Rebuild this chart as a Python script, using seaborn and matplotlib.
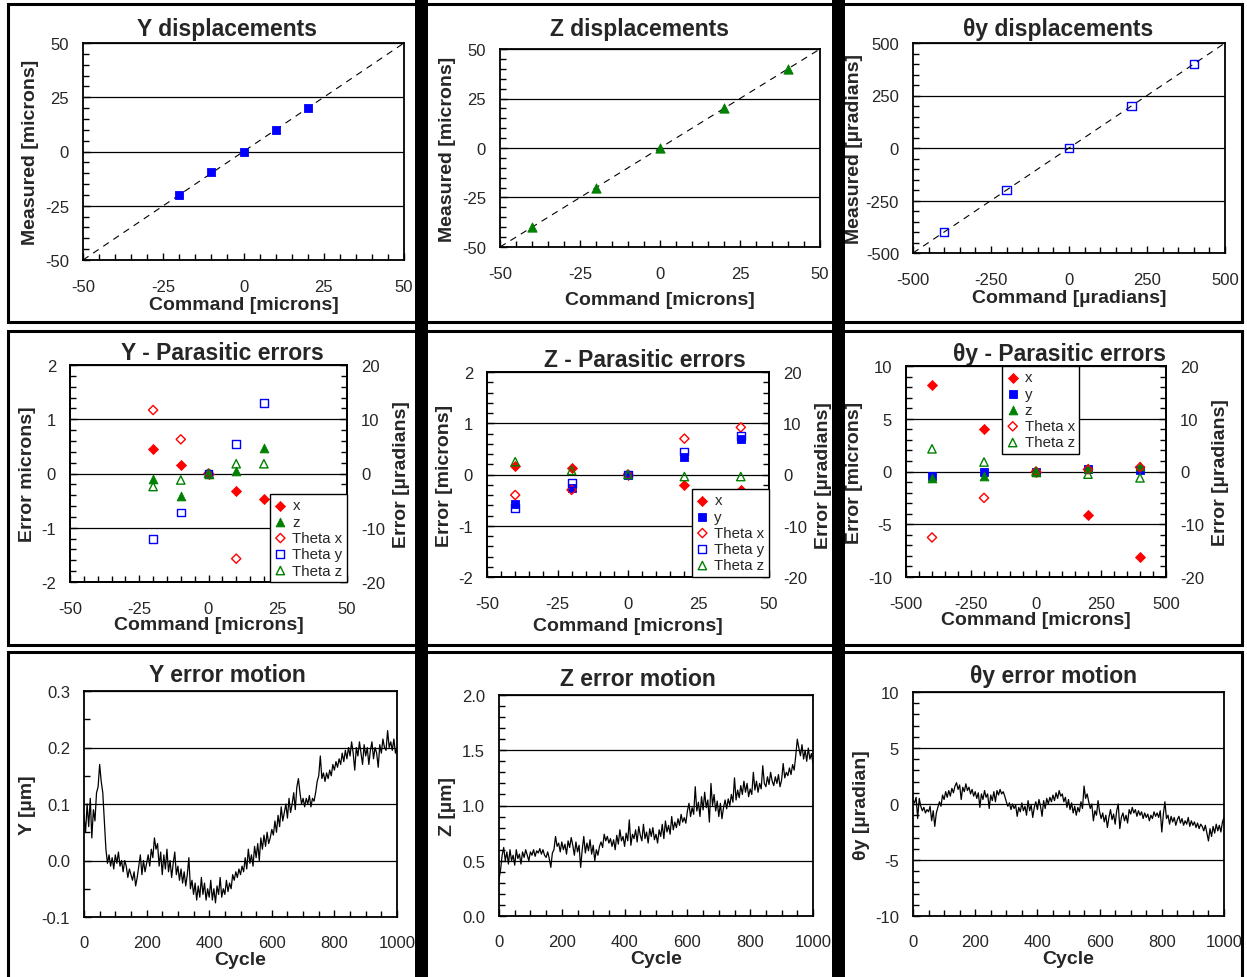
import numpy as np
import matplotlib
matplotlib.use('Agg')
import matplotlib.pyplot as plt
from matplotlib.patches import Rectangle
from matplotlib.ticker import MultipleLocator, FormatStrFormatter
import seaborn as sns

# ---------------- data ----------------
# displacement tests (command vs measured)
y_cmd = [-20, -10, 0, 10, 20]
y_meas = [-20, -9.5, 0, 10, 20]
z_cmd = [-40, -20, 0, 20, 40]
z_meas = [-40, -20, 0, 20, 40]
ty_cmd = [-400, -200, 0, 200, 400]
ty_meas = [-400, -200, 0, 200, 400]

# parasitic errors during Y motion (x, z in microns; thetas in urad)
ypar_cmd = [-20, -10, 0, 10, 20]
ypar_x = [0.45, 0.15, 0.0, -0.33, -0.47]
ypar_z = [-0.1, -0.42, 0.0, 0.05, 0.47]
ypar_thx = [11.7, 6.3, 0.0, -15.7, np.nan]
ypar_thy = [-12.0, -7.2, 0.0, 5.4, 13.0]
ypar_thz = [-2.4, -1.2, 0.0, 1.8, 1.8]

# parasitic errors during Z motion
zpar_cmd = [-40, -20, 0, 20, 40]
zpar_x = [0.17, 0.13, 0.0, -0.2, -0.3]
zpar_y = [-0.57, -0.27, 0.0, 0.35, 0.7]
zpar_thx = [-4.0, -3.0, 0.0, 7.0, 9.2]
zpar_thy = [-6.5, -1.6, 0.0, 4.5, 7.5]
zpar_thz = [2.5, 0.8, 0.0, -0.4, -0.4]

# parasitic errors during theta-y motion
tpar_cmd = [-400, -200, 0, 200, 400]
tpar_x = [8.2, 4.0, 0.0, -4.1, -8.1]
tpar_y = [-0.4, 0.0, 0.0, 0.2, 0.1]
tpar_z = [-0.6, -0.4, 0.0, 0.3, 0.5]
tpar_thx = [-12.5, -5.0, 0.0, 0.4, 0.8]
tpar_thz = [4.3, 1.8, 0.0, -0.5, -1.2]

# error motion over 1000 cycles (sampled every 5 cycles)
y_motion = [
    0.08, 0.05, 0.10, 0.06, 0.11, 0.04, 0.09, 0.07, 0.12, 0.13,
    0.17, 0.14, 0.12, 0.07, 0.02, -0.005, 0.01, -0.01, 0.005, -0.015,
    0.01, -0.005, 0.015, -0.01, 0.0, -0.02, 0.0, -0.01, -0.03, -0.015,
    -0.025, -0.035, -0.02, -0.045, -0.03, -0.01, 0.01, -0.025, 0.0, -0.02,
    -0.005, 0.01, -0.01, 0.02, 0.005, 0.04, 0.02, 0.03, -0.01, 0.015,
    -0.025, 0.01, -0.015, 0.02, -0.02, 0.0, -0.03, -0.005, 0.015, -0.025,
    -0.01, -0.035, -0.015, -0.04, -0.02, -0.045, -0.025, 0.005, -0.05, -0.035,
    -0.06, -0.04, -0.07, -0.045, -0.065, -0.03, -0.06, -0.04, -0.07, -0.05,
    -0.065, -0.035, -0.07, -0.05, -0.075, -0.045, -0.06, -0.03, -0.065, -0.05,
    -0.06, -0.035, -0.055, -0.04, -0.05, -0.025, -0.035, -0.02, -0.03, -0.015,
    -0.025, -0.01, -0.02, 0.005, -0.015, 0.02, -0.005, 0.01, -0.01, 0.025,
    0.005, 0.03, 0.0, 0.04, 0.02, 0.045, 0.025, 0.05, 0.03, 0.04,
    0.055, 0.045, 0.07, 0.05, 0.08, 0.06, 0.095, 0.07, 0.085, 0.1,
    0.075, 0.11, 0.085, 0.1, 0.12, 0.09, 0.13, 0.145, 0.12, 0.1,
    0.11, 0.095, 0.11, 0.1, 0.115, 0.095, 0.11, 0.105, 0.12, 0.14,
    0.15, 0.185, 0.145, 0.155, 0.14, 0.155, 0.145, 0.16, 0.15, 0.17,
    0.16, 0.175, 0.165, 0.18, 0.17, 0.19, 0.175, 0.195, 0.18, 0.2,
    0.185, 0.21, 0.19, 0.16, 0.2, 0.185, 0.21, 0.19, 0.17, 0.205,
    0.185, 0.2, 0.17, 0.195, 0.21, 0.18, 0.2, 0.19, 0.165, 0.205,
    0.19, 0.215, 0.2, 0.195, 0.23, 0.2, 0.21, 0.195, 0.215, 0.19,
    0.2,
]
z_motion = [
    0.33, 0.42, 0.55, 0.62, 0.5, 0.58, 0.47, 0.6, 0.5, 0.55,
    0.46, 0.6, 0.52, 0.56, 0.47, 0.58, 0.53, 0.6, 0.55, 0.5,
    0.58, 0.55, 0.6, 0.54, 0.59, 0.57, 0.61, 0.56, 0.6, 0.55,
    0.53, 0.58, 0.52, 0.44, 0.57, 0.6, 0.72, 0.63, 0.66, 0.58,
    0.67, 0.6, 0.65, 0.56, 0.68, 0.62, 0.71, 0.64, 0.55, 0.67,
    0.58, 0.64, 0.44, 0.6, 0.72, 0.57, 0.66, 0.59, 0.69, 0.56,
    0.64, 0.5, 0.6, 0.55, 0.63, 0.67, 0.62, 0.74, 0.68, 0.72,
    0.66, 0.7, 0.63, 0.69, 0.6, 0.73, 0.65, 0.78, 0.68, 0.72,
    0.63, 0.75, 0.68, 0.87, 0.64, 0.74, 0.7, 0.78, 0.67, 0.81,
    0.73, 0.68, 0.83, 0.7, 0.76, 0.66, 0.79, 0.72, 0.8, 0.69,
    0.74, 0.66, 0.78, 0.72, 0.83, 0.7, 0.86, 0.76, 0.82, 0.74,
    0.9, 0.78, 0.85, 0.8, 0.88, 0.82, 0.92, 0.85, 0.89, 0.84,
    0.95, 1.02, 0.9, 0.98, 0.92, 1.17, 0.95, 1.03, 0.9, 1.08,
    0.96, 1.12, 0.98, 1.05, 0.85, 1.2, 1.0, 1.1, 0.95, 1.04,
    0.9, 1.02, 0.88, 0.98, 1.05, 0.97, 1.06, 1.0, 1.1, 1.03,
    1.25, 1.05, 1.14, 1.07, 1.18, 1.1, 1.22, 1.12, 1.2, 1.08,
    1.15, 1.1, 1.3, 1.14, 1.22, 1.12, 1.2, 1.15, 1.36, 1.2,
    1.17, 1.26, 1.19, 1.3, 1.22, 1.18, 1.26, 1.2, 1.28, 1.17,
    1.23, 1.38, 1.25, 1.3, 1.27, 1.34, 1.28, 1.37, 1.32, 1.45,
    1.6, 1.52, 1.45, 1.55, 1.42, 1.5, 1.4, 1.52, 1.42, 1.47,
    1.38,
]
ty_motion = [
    0.3, 0.1, 0.6, -1.3, 0.5, -0.2, -0.6, -0.3, -0.8, -0.5,
    -0.7, -0.2, -1.5, -0.6, -2.0, -0.8, -0.3, 0.2, -0.2, 0.8,
    0.4, 1.1, 0.6, 1.2, 0.7, 1.4, 1.0, 1.6, 1.9, 1.3,
    1.7, 0.4, 1.5, 1.1, 1.8, 1.2, 1.5, 0.9, 1.3, 0.7,
    1.1, 0.5, 1.0, -0.3, 0.9, 0.4, 1.2, 0.6, 0.9, -0.4,
    0.8, 0.3, 1.1, 0.2, 1.2, 0.8, 1.3, 0.9, 1.1, 0.7,
    0.2, -0.2, 0.1, -0.5, 0.0, -0.4, -0.1, -1.1, -0.3, -0.7,
    0.1, -0.6, -0.2, -1.0, 0.3, -0.6, -0.1, -1.2, -0.3, 0.2,
    -0.5, 0.4, -0.2, -1.1, 0.3, -0.4, 0.5, 0.0, 0.6, 0.2,
    0.8, 0.3, 1.0, 0.5, 1.2, 0.7, 0.9, 0.2, 0.6, -0.3,
    0.4, -0.5, 0.1, -0.8, -0.2, -1.0, -0.3, -0.7, 0.2, -0.4,
    1.6, 0.5, 0.9, 0.2, -0.4, 0.0, -1.5, -0.6, -1.0, 0.3,
    -0.7, -1.3, -0.8, -1.6, -1.0, -2.1, -1.2, -0.5, -1.4, -0.9,
    -1.8, -0.6, 0.0, -2.2, -1.2, -0.8, -1.5, -1.0, -1.7, -0.5,
    -0.9, -0.3, -0.8, -0.5, -1.1, -0.6, -1.0, -0.7, -1.3, -0.8,
    -1.2, -0.9, -1.5, -1.0, -1.3, -0.7, -1.1, -0.8, -1.2, -0.6,
    -2.5, -0.9, 0.2, -1.3, -1.0, -1.8, -1.1, -1.6, -1.2, -1.9,
    -1.4, -1.1, -1.7, -1.3, -1.9, -1.5, -1.8, -1.2, -2.0, -1.5,
    -1.9, -1.6, -2.1, -1.7, -2.2, -1.8, -2.0, -2.4, -1.9, -2.6,
    -3.3, -2.2, -2.9, -2.0, -2.6, -1.8, -2.4, -1.9, -2.5, -1.6,
    -1.2,
]

# ---------------- styling ----------------
sns.set_style("white")
plt.rcParams['font.family'] = ['Liberation Sans', 'DejaVu Sans']
plt.rcParams['axes.unicode_minus'] = False

W, H = 1247, 978
fig = plt.figure(figsize=(W / 100, H / 100), dpi=100)

TITLE_FS = 16.5
LABEL_FS = 14
TICK_FS = 12
LEG_FS = 10.8


def px_axes(l, t, r, b):
    return fig.add_axes([l / W, 1 - b / H, (r - l) / W, (b - t) / H])


def style_axes(ax, xlim, xmaj, xmin, ylim, ymaj, ymin, xpad=14):
    ax.set_xlim(*xlim)
    ax.set_ylim(*ylim)
    ax.xaxis.set_major_locator(MultipleLocator(xmaj))
    ax.xaxis.set_minor_locator(MultipleLocator(xmin))
    ax.yaxis.set_major_locator(MultipleLocator(ymaj))
    ax.yaxis.set_minor_locator(MultipleLocator(ymin))
    ax.tick_params(which='both', direction='in', top=False, right=False,
                   left=True, bottom=True, width=1, color='black')
    ax.tick_params(which='major', length=5)
    ax.tick_params(which='minor', length=4)
    ax.tick_params(axis='x', pad=xpad, labelsize=TICK_FS)
    ax.tick_params(axis='y', pad=10, labelsize=TICK_FS)
    ax.grid(False)
    ax.yaxis.grid(True, which='major', color='black', lw=0.9)
    ax.set_axisbelow(True)
    for s in ax.spines.values():
        s.set_linewidth(1.3)
        s.set_color('black')


def right_axis(ax, label):
    ax2 = ax.twinx()
    ax2.set_ylim(-20, 20)
    ax2.yaxis.set_major_locator(MultipleLocator(10))
    ax2.yaxis.set_minor_locator(MultipleLocator(2))
    ax2.tick_params(which='both', direction='in', right=True, left=False,
                    width=1, color='black', labelsize=TICK_FS, pad=10)
    ax2.tick_params(which='major', length=5)
    ax2.tick_params(which='minor', length=4)
    ax2.grid(False)
    ax2.set_ylabel(label, fontsize=LABEL_FS, fontweight='bold', labelpad=6)
    for s in ax2.spines.values():
        s.set_linewidth(1.3)
        s.set_color('black')
    return ax2


def pts(ax, x, y, marker, color, filled, size, label=None):
    if filled:
        sns.scatterplot(x=x, y=y, ax=ax, marker=marker, color=color, s=size,
                        edgecolor=color, linewidth=0.6, label=label,
                        legend=False, zorder=3)
    else:
        sns.scatterplot(x=x, y=y, ax=ax, marker=marker, color=color, s=size,
                        facecolor='none', edgecolor=color, linewidth=1.0,
                        label=label, legend=False, zorder=3)


def titles(ax, title, tx, xlabel, ylabel, tpad=6, xlpad=1, ylpad=4):
    ax.set_title(title, fontsize=TITLE_FS, fontweight='bold', x=tx, pad=tpad)
    ax.set_xlabel(xlabel, fontsize=LABEL_FS, fontweight='bold', labelpad=xlpad)
    ax.set_ylabel(ylabel, fontsize=LABEL_FS, fontweight='bold', labelpad=ylpad)


def legend(ax_main, ax_top, **kw):
    h1, l1 = ax_main.get_legend_handles_labels()
    h2, l2 = ax_top.get_legend_handles_labels()
    leg = ax_top.legend(h1 + h2, l1 + l2, fontsize=LEG_FS, frameon=True,
                        fancybox=False, edgecolor='black', framealpha=1,
                        handlelength=0.8, handletextpad=0.4, labelspacing=0.15,
                        borderpad=0.3, borderaxespad=0, **kw)
    leg.get_frame().set_linewidth(1.0)
    leg.set_zorder(10)


RED, BLUE, GREEN = '#ff0000', '#0000ff', '#008000'

# ---------------- row 1: displacements ----------------
ax = px_axes(83, 44, 404, 261)
style_axes(ax, (-50, 50), 25, 5, (-50, 50), 25, 5)
ax.axline((0, 0), slope=1, color='black', lw=0.8, ls=(0, (6, 5)))
pts(ax, y_cmd, y_meas, 's', BLUE, True, 40)
titles(ax, 'Y displacements', 0.449, 'Command [microns]', 'Measured [microns]')

ax = px_axes(500, 50, 820, 248)
style_axes(ax, (-50, 50), 25, 5, (-50, 50), 25, 5)
ax.axline((0, 0), slope=1, color='black', lw=0.8, ls=(0, (6, 5)))
pts(ax, z_cmd, z_meas, '^', GREEN, True, 45)
titles(ax, 'Z displacements', 0.4375, 'Command [microns]', 'Measured [microns]',
       tpad=10, xlpad=7)

ax = px_axes(913, 44, 1225, 254)
style_axes(ax, (-500, 500), 250, 50, (-500, 500), 250, 50)
ax.axline((0, 0), slope=1, color='black', lw=0.8, ls=(0, (6, 5)))
pts(ax, ty_cmd, ty_meas, 's', BLUE, False, 36)
titles(ax, 'θy displacements', 0.465, 'Command [µradians]', 'Measured [µradians]',
       ylpad=2)

# ---------------- row 2: parasitic errors ----------------
ax = px_axes(70, 366, 347, 583)
style_axes(ax, (-50, 50), 25, 5, (-2, 2), 1, 0.2)
ax2 = right_axis(ax, 'Error [µradians]')
pts(ax, ypar_cmd, ypar_x, 'D', RED, True, 26, 'x')
pts(ax, ypar_cmd, ypar_z, '^', GREEN, True, 40, 'z')
pts(ax2, ypar_cmd, ypar_thx, 'D', RED, False, 22, 'Theta x')
pts(ax2, ypar_cmd, ypar_thy, 's', BLUE, False, 32, 'Theta y')
pts(ax2, ypar_cmd, ypar_thz, '^', GREEN, False, 36, 'Theta z')
titles(ax, 'Y - Parasitic errors', 0.549, 'Command [microns]', 'Error microns]',
       tpad=4, xlpad=0)
legend(ax, ax2, loc='lower right')

ax = px_axes(487, 373, 769, 578)
style_axes(ax, (-50, 50), 25, 5, (-2, 2), 1, 0.2)
ax2 = right_axis(ax, 'Error [µradians]')
pts(ax, zpar_cmd, zpar_x, 'D', RED, True, 26, 'x')
pts(ax, zpar_cmd, zpar_y, 's', BLUE, True, 32, 'y')
pts(ax2, zpar_cmd, zpar_thx, 'D', RED, False, 22, 'Theta x')
pts(ax2, zpar_cmd, zpar_thy, 's', BLUE, False, 32, 'Theta y')
pts(ax2, zpar_cmd, zpar_thz, '^', GREEN, False, 36, 'Theta z')
titles(ax, 'Z - Parasitic errors', 0.56, 'Command [microns]', 'Error [microns]',
       tpad=4, xlpad=4)
legend(ax, ax2, loc='lower right')

ax = px_axes(906, 367, 1166, 578)
style_axes(ax, (-500, 500), 250, 50, (-10, 10), 5, 1)
ax2 = right_axis(ax, 'Error [µradians]')
pts(ax, tpar_cmd, tpar_x, 'D', RED, True, 26, 'x')
pts(ax, tpar_cmd, tpar_y, 's', BLUE, True, 32, 'y')
pts(ax, tpar_cmd, tpar_z, '^', GREEN, True, 40, 'z')
pts(ax2, tpar_cmd, tpar_thx, 'D', RED, False, 22, 'Theta x')
pts(ax2, tpar_cmd, tpar_thz, '^', GREEN, False, 36, 'Theta z')
titles(ax, 'θy - Parasitic errors', 0.592, 'Command [microns]', 'Error [microns]',
       tpad=4, xlpad=0)
legend(ax, ax2, loc='upper left', bbox_to_anchor=(0.37, 1.0))

# ---------------- row 3: error motion ----------------
cyc_y = np.linspace(0, 1000, len(y_motion))
cyc_z = np.linspace(0, 1000, len(z_motion))
cyc_t = np.linspace(0, 1000, len(ty_motion))

ax = px_axes(84, 692, 397, 918)
style_axes(ax, (0, 1000), 200, 50, (-0.1, 0.3), 0.1, 0.05, xpad=13)
ax.yaxis.set_major_formatter(FormatStrFormatter('%.1f'))
sns.lineplot(x=cyc_y, y=y_motion, ax=ax, color='black', lw=0.9)
titles(ax, 'Y error motion', 0.457, 'Cycle', 'Y [µm]', tpad=7, xlpad=0.5)

ax = px_axes(499, 696, 813, 917)
style_axes(ax, (0, 1000), 200, 50, (0, 2), 0.5, 0.1, xpad=13)
ax.yaxis.set_major_formatter(FormatStrFormatter('%.1f'))
sns.lineplot(x=cyc_z, y=z_motion, ax=ax, color='black', lw=0.9)
titles(ax, 'Z error motion', 0.443, 'Cycle', 'Z [µm]', tpad=7, xlpad=0.5)

ax = px_axes(913, 693, 1224, 917)
style_axes(ax, (0, 1000), 200, 50, (-10, 10), 5, 1, xpad=13)
sns.lineplot(x=cyc_t, y=ty_motion, ax=ax, color='black', lw=0.9)
titles(ax, 'θy error motion', 0.453, 'Cycle', 'θy [µradian]', tpad=7, xlpad=0.5)

# ---------------- panel frames ----------------
for top, bot in [(5, 323), (332, 646), (653, 995)]:
    fig.add_artist(Rectangle((8 / W, 1 - bot / H), (1242 - 8) / W, (bot - top) / H,
                             transform=fig.transFigure, fill=False,
                             ec='black', lw=2.2))
for x0, x1 in [(415, 428), (832, 845)]:
    fig.add_artist(Rectangle((x0 / W, 0), (x1 - x0) / W, 1,
                             transform=fig.transFigure, fc='black', ec='none'))

fig.savefig('out.png', dpi=100)
